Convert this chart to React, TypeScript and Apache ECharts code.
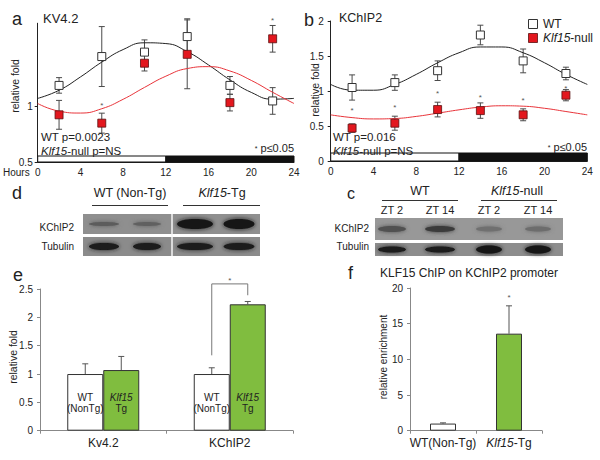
import React, { useEffect, useRef } from 'react';
import * as echarts from 'echarts';

const FONT = '"Liberation Sans", Arial, Helvetica, sans-serif';
const GREEN = '#80bd3f';
const RED = '#e3171e';

// ---------- panels a / b : circadian qPCR ----------
const hours = [2, 6, 10, 14, 18, 22];
const fitHours = [0, 2, 4, 6, 8, 10, 12, 14, 16, 18, 20, 22, 24];

const aWT = [1.19, 1.45, 1.49, 1.63, 1.19, 1.05];
const aWTErr = [0.07, 0.27, 0.11, 0.16, 0.08, 0.12];
const aKO = [0.925, 0.85, 1.39, 1.47, 1.035, 1.61];
const aKOErr = [0.13, 0.09, 0.07, 0.31, 0.075, 0.12];
const aWTFit = [1.073, 1.146, 1.266, 1.4, 1.513, 1.574, 1.567, 1.494, 1.374, 1.24, 1.127, 1.066, 1.073];
const aKOFit = [1.027, 0.958, 0.941, 0.98, 1.065, 1.172, 1.273, 1.342, 1.359, 1.32, 1.235, 1.128, 1.027];
const aStars = [[6, 1.03], [22, 1.79]];

const bWT = [1.05, 1.12, 1.29, 1.8, 1.43, 1.25];
const bWTErr = [0.18, 0.11, 0.14, 0.14, 0.17, 0.09];
const bKO = [0.47, 0.54, 0.735, 0.72, 0.66, 0.94];
const bKOErr = [0.06, 0.1, 0.105, 0.11, 0.085, 0.08];
const bWTFit = [1.094, 1.011, 1.011, 1.094, 1.237, 1.403, 1.546, 1.629, 1.629, 1.546, 1.403, 1.237, 1.094];
const bKOFit = [0.659, 0.62, 0.601, 0.607, 0.637, 0.683, 0.731, 0.77, 0.789, 0.783, 0.753, 0.707, 0.659];
const bStarY = [0.745, 0.79, 1.0, 0.93, 0.894, 1.06];

const lightDark = [[0, 12, 0], [12, 24, 1]];

// ---------- panel e ----------
const eCategories = ['Kv4.2', 'KChIP2'];
const eWT = [1, 1];
const eWTErr = [0.18, 0.11];
const eTg = [1.07, 2.23];
const eTgErr = [0.24, 0.05];
const eBracket = [1.33, 2.59, 2.39]; // left foot, top, right foot (for KChIP2)
const eStarY = 2.69;

// ---------- panel f ----------
const fCategories = ['WT(Non-Tg)', 'Klf15-Tg'];
const fValues = [1.0, 13.6];
const fErr = [0.1, 3.9];
const fStarY = 18.9;

// ---------- blots (band intensity 0..1) ----------
const dKChIP2 = [0.42, 0.38, 1, 1];
const dTubulin = [0.95, 0.95, 0.95, 0.95];
const cKChIP2 = [0.5, 0.68, 0.25, 0.27];
const cTubulin = [0.95, 0.95, 1, 1];

let measureCtx: CanvasRenderingContext2D | null = null;
function measure(text: string, size: number, italic = false) {
  if (!measureCtx) measureCtx = document.createElement('canvas').getContext('2d');
  if (!measureCtx) return text.length * size * 0.55;
  measureCtx.font = `${italic ? 'italic ' : ''}${size}px ${FONT}`;
  return measureCtx.measureText(text).width;
}

function errSeries(axis: number, data: number[][], opts: { cap: number; dx?: number; lower?: boolean; color?: string }) {
  const { cap, dx = 0, lower = true, color = '#4a4a4a' } = opts;
  return {
    type: 'custom',
    xAxisIndex: axis,
    yAxisIndex: axis,
    z: 1,
    silent: true,
    renderItem: (_p: any, api: any) => {
      const x = api.value(0);
      const p1 = api.coord([x, api.value(1)]);
      const p2 = api.coord([x, api.value(2)]);
      const st = { stroke: color, lineWidth: 1 };
      const ch: any[] = [
        { type: 'line', shape: { x1: p1[0] + dx, y1: p1[1], x2: p2[0] + dx, y2: p2[1] }, style: st },
        { type: 'line', shape: { x1: p2[0] + dx - cap, y1: p2[1], x2: p2[0] + dx + cap, y2: p2[1] }, style: st },
      ];
      if (lower) ch.push({ type: 'line', shape: { x1: p1[0] + dx - cap, y1: p1[1], x2: p1[0] + dx + cap, y2: p1[1] }, style: st });
      return { type: 'group', children: ch };
    },
    data,
  };
}

function starSeries(axis: number, data: number[][], size = 8) {
  return {
    type: 'custom',
    xAxisIndex: axis,
    yAxisIndex: axis,
    z: 5,
    silent: true,
    renderItem: (_p: any, api: any) => {
      const p = api.coord([api.value(0), api.value(1)]);
      return {
        type: 'text',
        x: p[0],
        y: p[1] + 2,
        style: { text: '*', fontSize: size, fontFamily: FONT, fill: '#555', align: 'center', verticalAlign: 'middle', textAlign: 'center', textVerticalAlign: 'middle' },
      };
    },
    data,
  };
}

function dayNightSeries(axis: number, yBase: number, h: number) {
  return {
    type: 'custom',
    xAxisIndex: axis,
    yAxisIndex: axis,
    z: 6,
    silent: true,
    renderItem: (_p: any, api: any) => {
      const a = api.coord([api.value(0), yBase]);
      const b = api.coord([api.value(1), yBase]);
      const dark = api.value(2) === 1;
      return {
        type: 'rect',
        shape: { x: a[0], y: a[1] - h, width: b[0] - a[0], height: h },
        style: { fill: dark ? '#111' : '#fff', stroke: '#111', lineWidth: 1 },
      };
    },
    data: lightDark,
  };
}

function txt(text: string, x: number, y: number, size: number, extra: any = {}) {
  const { align = 'left', vAlign = 'middle', rotation, color = '#222', italic = false } = extra;
  const el: any = {
    type: 'text',
    x,
    y,
    z: 10,
    silent: true,
    style: {
      text,
      fontSize: size,
      fontFamily: FONT,
      fontWeight: 'normal',
      fontStyle: italic ? 'italic' : 'normal',
      fill: color,
      align,
      verticalAlign: vAlign,
      textAlign: align,
      textVerticalAlign: vAlign,
    },
  };
  if (rotation) el.rotation = rotation;
  return el;
}

// sequence of [text, italic, size?] pieces laid out horizontally
function pieces(parts: [string, boolean, number?][], x: number, y: number, size: number, align: 'left' | 'center' | 'right' = 'left') {
  const widths = parts.map(([t, it, s]) => measure(t, s || size, it));
  const total = widths.reduce((a, b) => a + b, 0);
  let cx = align === 'left' ? x : align === 'center' ? x - total / 2 : x - total;
  return parts.map(([t, it, s], i) => {
    const el = txt(t, cx, y, s || size, { italic: it });
    cx += widths[i];
    return el;
  });
}

function line(x1: number, y1: number, x2: number, y2: number, color = '#333', w = 1) {
  return { type: 'line', silent: true, shape: { x1, y1, x2, y2 }, style: { stroke: color, lineWidth: w } };
}

function bandGray(v: number) {
  const g = Math.round(142 - v * 122);
  return `rgb(${g},${g},${g})`;
}

function blot(
  x0: number, x1: number, rows: { y0: number; y1: number; bg: string }[],
  lanes: number[], bands: number[][], widths: number[], heights: number[][], divider?: number
) {
  const els: any[] = [];
  rows.forEach((r, ri) => {
    els.push({ type: 'rect', silent: true, shape: { x: x0, y: r.y0, width: x1 - x0, height: r.y1 - r.y0 }, style: { fill: r.bg } });
    const cy = (r.y0 + r.y1) / 2;
    bands[ri].forEach((v, li) => {
      const w = widths[li];
      const h = heights[ri][li];
      const c = bandGray(v);
      els.push({
        type: 'ellipse',
        silent: true,
        shape: { cx: lanes[li], cy, rx: w / 2, ry: h / 2 },
        style: { fill: c, shadowBlur: 4, shadowColor: c },
      });
    });
  });
  if (divider) {
    els.push({ type: 'rect', silent: true, shape: { x: divider - 0.75, y: rows[0].y0, width: 1.5, height: rows[rows.length - 1].y1 - rows[0].y0 }, style: { fill: '#f4f4f4' } });
  }
  return els;
}

function buildOption(): any {
  const axisCol = '#222';
  const tickLbl = { fontSize: 10, color: '#222', fontFamily: FONT };

  const timeX = (gi: number, margin: number) => ({
    gridIndex: gi,
    type: 'value',
    min: 0,
    max: 24,
    interval: 4,
    axisLine: { lineStyle: { color: axisCol } },
    axisTick: { show: false },
    splitLine: { show: false },
    axisLabel: { ...tickLbl, margin },
  });

  const valY = (gi: number, min: number, max: number, interval: number, vals: number[], margin: number, color = axisCol) => ({
    gridIndex: gi,
    type: 'value',
    min,
    max,
    interval,
    axisLine: { show: true, lineStyle: { color } },
    axisTick: { show: true, length: 3, lineStyle: { color }, customValues: vals },
    splitLine: { show: false },
    axisLabel: { ...tickLbl, margin, customValues: vals, showMaxLabel: vals[vals.length - 1] === max },
  });

  const graphics: any[] = [];
  // panel letters and titles
  graphics.push(txt('a', 12, 19, 18));
  graphics.push(txt('KV4.2', 43, 18, 13));
  graphics.push(txt('b', 304, 20, 18));
  graphics.push(txt('KChIP2', 339, 18, 12.5));
  graphics.push(txt('relative fold', 15, 86, 10.5, { align: 'center', rotation: Math.PI / 2 }));
  graphics.push(txt('relative fold', 315, 90, 10.5, { align: 'center', rotation: Math.PI / 2 }));
  graphics.push(txt('Hours', 3, 172, 10));
  graphics.push(txt('WT p=0.0023', 41, 137, 11.5));
  graphics.push(...pieces([['Klf15', true], ['-null p=NS', false]], 41, 151, 11.5));
  graphics.push(...pieces([['*', false, 7], [' p≤0.05', false]], 294, 148, 11, 'right'));
  graphics.push(txt('WT p=0.016', 333, 137, 11.5));
  graphics.push(...pieces([['Klf15', true], ['-null p=NS', false]], 333, 151, 11.5));
  graphics.push(...pieces([['*', false, 7], [' p≤0.05', false]], 587, 147, 11, 'right'));

  // legend (panel b)
  graphics.push({ type: 'rect', silent: true, shape: { x: 528.5, y: 19.5, width: 9, height: 9 }, style: { fill: '#fff', stroke: '#333', lineWidth: 1 } });
  graphics.push(txt('WT', 543, 24, 12));
  graphics.push({ type: 'rect', silent: true, shape: { x: 528.5, y: 33.5, width: 9, height: 9 }, style: { fill: RED, stroke: '#5a1010', lineWidth: 0.8 } });
  graphics.push(...pieces([['Klf15', true], ['-null', false]], 543, 38, 12));

  // panel d blot
  graphics.push(txt('d', 12, 193, 18));
  graphics.push(txt('WT (Non-Tg)', 130, 193, 12.5, { align: 'center' }));
  graphics.push(line(92, 205.5, 168, 205.5));
  graphics.push(...pieces([['Klf15', true], ['-Tg', false]], 222, 193, 12.5, 'center'));
  graphics.push(line(183, 205.5, 260, 205.5));
  graphics.push(txt('KChIP2', 74, 227, 10, { align: 'right' }));
  graphics.push(txt('Tubulin', 74, 246, 10, { align: 'right' }));
  graphics.push(
    ...blot(
      83, 260,
      [{ y0: 214, y1: 234, bg: '#8f8f8f' }, { y0: 237, y1: 256, bg: '#8b8b8b' }],
      [104, 147, 195, 239],
      [dKChIP2, dTubulin],
      [30, 28, 36, 31],
      [[4, 4, 10, 10], [7, 7, 7, 7]],
      172
    )
  );

  // panel c blot
  graphics.push(txt('c', 347, 193, 16));
  graphics.push(txt('WT', 420, 191, 12.5, { align: 'center' }));
  graphics.push(line(382, 200.5, 458, 200.5));
  graphics.push(...pieces([['Klf15', true], ['-null', false]], 517, 191, 12.5, 'center'));
  graphics.push(line(481, 200.5, 557, 200.5));
  ['ZT 2', 'ZT 14', 'ZT 2', 'ZT 14'].forEach((t, i) => graphics.push(txt(t, [392, 440, 489, 538][i], 210, 11, { align: 'center' })));
  graphics.push(txt('KChIP2', 369, 228, 10, { align: 'right' }));
  graphics.push(txt('Tubulin', 369, 246, 10, { align: 'right' }));
  graphics.push(
    ...blot(
      375, 563,
      [{ y0: 218, y1: 240, bg: '#989898' }, { y0: 243, y1: 256, bg: '#8d8d8d' }],
      [392, 440, 489, 538],
      [cKChIP2, cTubulin],
      [28, 30, 26, 26],
      [[6, 6, 5, 5], [6, 6, 8, 8]]
    )
  );

  // panels e / f
  graphics.push(txt('e', 13, 275, 18));
  graphics.push(txt('relative fold', 13, 357, 10.5, { align: 'center', rotation: Math.PI / 2 }));
  graphics.push(txt('f', 348, 273, 18));
  graphics.push(txt('KLF15 ChIP on KChIP2 promoter', 469, 273, 12, { align: 'center' }));
  graphics.push(txt('relative enrichment', 383, 357, 10, { align: 'center', rotation: Math.PI / 2 }));

  const wtItem = { color: '#fff', borderColor: '#333', borderWidth: 1, opacity: 1 };
  const koItem = { color: RED, borderColor: '#5a1010', borderWidth: 0.8, opacity: 1 };

  const barHalf = 18;

  return {
    animation: false,
    backgroundColor: '#fff',
    textStyle: { fontFamily: FONT, fontWeight: 'normal' },
    grid: [
      { left: 37.7, top: 23.25, width: 256.3, height: 138.75 },
      { left: 330.7, top: 21, width: 256.6, height: 140 },
      { left: 40, top: 289, width: 253, height: 141.7 },
      { left: 410, top: 288, width: 132, height: 142.7 },
    ],
    xAxis: [
      timeX(0, 5),
      timeX(1, 5),
      {
        gridIndex: 2,
        type: 'category',
        data: eCategories,
        axisLine: { lineStyle: { color: '#888' } },
        axisTick: { show: true, length: 3, lineStyle: { color: '#888' } },
        axisLabel: { fontSize: 12, color: '#222', fontFamily: FONT, margin: 6, interval: 0 },
      },
      {
        gridIndex: 3,
        type: 'category',
        data: fCategories,
        axisLine: { lineStyle: { color: '#888' } },
        axisTick: { show: true, length: 3, lineStyle: { color: '#888' } },
        axisLabel: {
          fontSize: 12, color: '#222', fontFamily: FONT, margin: 6, interval: 0,
          formatter: (v: string) => (v === 'Klf15-Tg' ? '{i|Klf15}{n|-Tg}' : v),
          rich: {
            i: { fontStyle: 'italic', fontSize: 12, fontFamily: FONT, color: '#222' },
            n: { fontSize: 12, fontFamily: FONT, color: '#222' },
          },
        },
      },
    ],
    yAxis: [
      valY(0, 0.5, 1.75, 0.5, [0.5, 1, 1.5], 5),
      valY(1, 0, 2, 0.5, [0, 0.5, 1, 1.5, 2], 7),
      valY(2, 0, 2.5, 0.5, [0, 0.5, 1, 1.5, 2, 2.5], 7, '#888'),
      valY(3, 0, 20, 5, [0, 5, 10, 15, 20], 7, '#888'),
    ],
    graphic: { elements: graphics },
    series: [
      // ---- panel a ----
      { type: 'line', xAxisIndex: 0, yAxisIndex: 0, data: fitHours.map((h, i) => [h, aWTFit[i]]), smooth: 0.5, showSymbol: false, lineStyle: { color: '#222', width: 1 }, z: 2, silent: true },
      { type: 'line', xAxisIndex: 0, yAxisIndex: 0, data: fitHours.map((h, i) => [h, aKOFit[i]]), smooth: 0.5, showSymbol: false, lineStyle: { color: '#e8343a', width: 1 }, z: 2, silent: true },
      errSeries(0, hours.map((h, i) => [h, aWT[i] - aWTErr[i], aWT[i] + aWTErr[i]]), { cap: 3 }),
      errSeries(0, hours.map((h, i) => [h, aKO[i] - aKOErr[i], aKO[i] + aKOErr[i]]), { cap: 3 }),
      { name: 'WT', type: 'scatter', xAxisIndex: 0, yAxisIndex: 0, data: hours.map((h, i) => [h, aWT[i]]), symbol: 'rect', symbolSize: 8, itemStyle: wtItem, z: 4 },
      { name: 'Klf15-null', type: 'scatter', xAxisIndex: 0, yAxisIndex: 0, data: hours.map((h, i) => [h, aKO[i]]), symbol: 'rect', symbolSize: 8, itemStyle: koItem, z: 4 },
      starSeries(0, aStars),
      dayNightSeries(0, 0.5, 6),
      // ---- panel b ----
      { type: 'line', xAxisIndex: 1, yAxisIndex: 1, data: fitHours.map((h, i) => [h, bWTFit[i]]), smooth: 0.5, showSymbol: false, lineStyle: { color: '#222', width: 1 }, z: 2, silent: true },
      { type: 'line', xAxisIndex: 1, yAxisIndex: 1, data: fitHours.map((h, i) => [h, bKOFit[i]]), smooth: 0.5, showSymbol: false, lineStyle: { color: '#e8343a', width: 1 }, z: 2, silent: true },
      errSeries(1, hours.map((h, i) => [h, bWT[i] - bWTErr[i], bWT[i] + bWTErr[i]]), { cap: 3 }),
      errSeries(1, hours.map((h, i) => [h, bKO[i] - bKOErr[i], bKO[i] + bKOErr[i]]), { cap: 3 }),
      { name: 'WT', type: 'scatter', xAxisIndex: 1, yAxisIndex: 1, data: hours.map((h, i) => [h, bWT[i]]), symbol: 'rect', symbolSize: 8, itemStyle: wtItem, z: 4 },
      { name: 'Klf15-null', type: 'scatter', xAxisIndex: 1, yAxisIndex: 1, data: hours.map((h, i) => [h, bKO[i]]), symbol: 'rect', symbolSize: 8, itemStyle: koItem, z: 4 },
      starSeries(1, hours.map((h, i) => [h, bStarY[i]])),
      dayNightSeries(1, 0, 8),
      // ---- panel e ----
      {
        name: 'e-WT', type: 'bar', xAxisIndex: 2, yAxisIndex: 2, data: eWT, barWidth: 36, barGap: '0%',
        itemStyle: { color: '#fff', borderColor: '#333', borderWidth: 1 },
        label: { show: true, position: 'insideBottom', distance: 17, formatter: 'WT\n(NonTg)', fontSize: 10, lineHeight: 11, color: '#222', fontFamily: FONT },
        silent: true,
      },
      {
        name: 'e-Tg', type: 'bar', xAxisIndex: 2, yAxisIndex: 2, data: eTg, barWidth: 36, barGap: '0%',
        itemStyle: { color: GREEN, borderColor: '#333', borderWidth: 1 },
        label: {
          show: true, position: 'insideBottom', distance: 17, formatter: '{i|Klf15}\n{n|Tg}', fontSize: 10, lineHeight: 11, color: '#222', fontFamily: FONT,
          rich: {
            i: { fontStyle: 'italic', fontSize: 10, lineHeight: 11, fontFamily: FONT, color: '#222' },
            n: { fontSize: 10, lineHeight: 11, fontFamily: FONT, color: '#222' },
          },
        },
        silent: true,
      },
      errSeries(2, eWT.map((v, i) => [i, v, v + eWTErr[i]]), { cap: 3, dx: -barHalf, lower: false, color: '#555' }),
      errSeries(2, eTg.map((v, i) => [i, v, v + eTgErr[i]]), { cap: 3, dx: barHalf, lower: false, color: '#555' }),
      {
        type: 'custom', xAxisIndex: 2, yAxisIndex: 2, z: 5, silent: true,
        renderItem: (_p: any, api: any) => {
          const c = api.value(0);
          const pl = api.coord([c, api.value(1)]);
          const pt = api.coord([c, api.value(2)]);
          const pr = api.coord([c, api.value(3)]);
          const ps = api.coord([c, api.value(4)]);
          return {
            type: 'group',
            children: [
              { type: 'polyline', shape: { points: [[pl[0] - barHalf, pl[1]], [pt[0] - barHalf, pt[1]], [pt[0] + barHalf, pt[1]], [pr[0] + barHalf, pr[1]]] }, style: { stroke: '#777', lineWidth: 1, fill: 'none' } },
              { type: 'text', x: ps[0], y: ps[1] + 2, style: { text: '*', fontSize: 8, fontFamily: FONT, fill: '#555', align: 'center', verticalAlign: 'middle', textAlign: 'center', textVerticalAlign: 'middle' } },
            ],
          };
        },
        data: [[1, eBracket[0], eBracket[1], eBracket[2], eStarY]],
      },
      // ---- panel f ----
      {
        name: 'f', type: 'bar', xAxisIndex: 3, yAxisIndex: 3, barWidth: 26,
        data: fValues.map((v, i) => ({ value: v, itemStyle: { color: i === 0 ? '#fff' : GREEN, borderColor: '#333', borderWidth: 1 } })),
        silent: true,
      },
      errSeries(3, fValues.map((v, i) => [i, v, v + fErr[i]]), { cap: 3, lower: false, color: '#555' }),
      starSeries(3, [[1, fStarY]]),
    ],
  };
}

export default function App() {
  const ref = useRef<HTMLDivElement>(null);
  useEffect(() => {
    document.body.style.margin = '0';
    if (!ref.current) return;
    const chart = echarts.init(ref.current, undefined, { renderer: 'svg' });
    chart.setOption(buildOption());
    return () => chart.dispose();
  }, []);
  return <div ref={ref} style={{ width: 600, height: 460 }} />;
}
